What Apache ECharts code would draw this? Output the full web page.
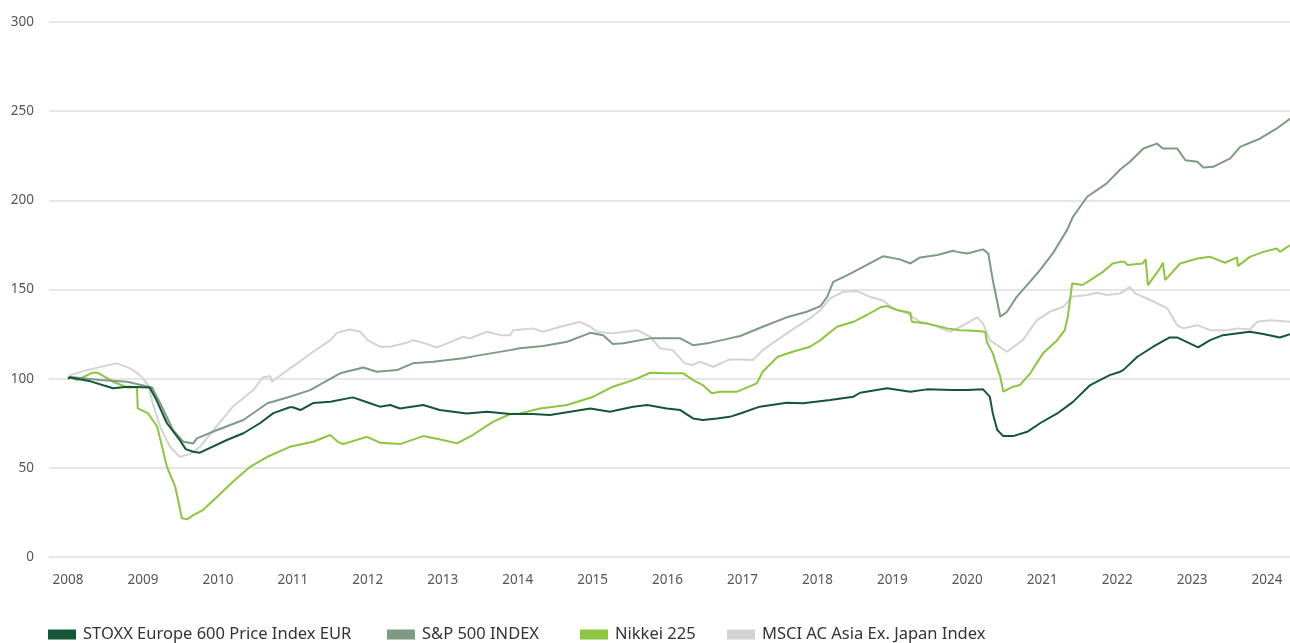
<!DOCTYPE html>
<html>
<head>
<meta charset="utf-8">
<script src="https://cdn.jsdelivr.net/npm/echarts@6/dist/echarts.min.js"></script>
<style>
html,body{margin:0;padding:0;background:#fff;}
#chart{width:1290px;height:643px;}
</style>
</head>
<body>
<div id="chart"></div>
<script>
// Year tick labels
const yearTicks = [2008,2009,2010,2011,2012,2013,2014,2015,2016,2017,2018,2019,2020,2021,2022,2023,2024];
const seriesNames = ['STOXX Europe 600 Price Index EUR','S&P 500 INDEX','Nikkei 225','MSCI AC Asia Ex. Japan Index'];

// [decimal year, indexed value]
const stoxx = [[2008.00,100],[2008.03,100.7],[2008.3,98.5],[2008.6,94.6],[2008.8,95.5],[2009.09,95.1],[2009.18,88],[2009.32,75],[2009.49,65.6],[2009.57,60.5],[2009.67,59],[2009.76,58.5],[2010.12,65.6],[2010.34,69.4],[2010.56,75],[2010.74,80.7],[2010.96,84],[2011.0,84],[2011.1,82.4],[2011.27,86.3],[2011.5,87],[2011.8,89.5],[2012.03,86.2],[2012.16,84.3],[2012.3,85.2],[2012.43,83.3],[2012.74,85.2],[2012.96,82.4],[2013.32,80.5],[2013.59,81.5],[2013.9,80.2],[2014.2,80.2],[2014.43,79.6],[2014.97,83.3],[2015.23,81.5],[2015.54,84.3],[2015.73,85.2],[2015.99,83.3],[2016.17,82.4],[2016.34,77.7],[2016.47,76.8],[2016.66,77.7],[2016.83,78.6],[2016.97,80.5],[2017.23,84.3],[2017.59,86.5],[2017.81,86.2],[2018.17,88],[2018.48,89.9],[2018.57,92.1],[2018.93,94.6],[2019.24,92.7],[2019.46,94],[2019.8,93.6],[2020.0,93.6],[2020.21,94],[2020.3,89.9],[2020.34,80.5],[2020.4,71.2],[2020.48,67.8],[2020.61,67.8],[2020.8,70.2],[2020.97,75],[2021.2,80.5],[2021.41,87],[2021.64,96.4],[2021.77,99.2],[2021.9,102],[2022.04,103.9],[2022.08,104.8],[2022.27,112.3],[2022.48,117.9],[2022.7,123.1],[2022.8,123.1],[2023.08,117.5],[2023.24,121.6],[2023.41,124.4],[2023.77,126.3],[2023.95,125],[2024.17,123.1],[2024.31,125]];

const sp500 = [[2008.0,100],[2008.03,101],[2008.43,99.2],[2008.79,98.3],[2009.03,95.9],[2009.12,95.1],[2009.23,86.2],[2009.4,71.2],[2009.54,64.6],[2009.67,63.7],[2009.72,66.5],[2009.99,71.2],[2010.34,76.8],[2010.66,86.2],[2010.96,89.9],[2011.23,93.6],[2011.63,103],[2011.94,106.3],[2012.12,103.9],[2012.39,104.8],[2012.6,108.6],[2012.87,109.5],[2013.27,111.4],[2013.5,113.2],[2013.9,116],[2014.03,117],[2014.34,118.3],[2014.66,120.7],[2014.97,125.7],[2015.14,124.4],[2015.27,119.4],[2015.41,119.8],[2015.77,122.6],[2016.17,122.6],[2016.34,118.8],[2016.53,119.8],[2016.83,122.6],[2016.97,123.9],[2017.27,129.1],[2017.59,134.4],[2017.86,137.5],[2018.04,140.7],[2018.13,145.9],[2018.21,154.3],[2018.4,158.1],[2018.61,162.7],[2018.88,168.7],[2019.1,166.9],[2019.24,164.6],[2019.37,168],[2019.6,169.3],[2019.81,171.7],[2019.86,171.1],[2020.0,170.2],[2020.21,172.5],[2020.28,170.2],[2020.34,155.3],[2020.44,134.7],[2020.53,137.5],[2020.66,145.9],[2020.97,160.9],[2021.14,170.2],[2021.33,183.3],[2021.41,190.8],[2021.6,202],[2021.86,209.5],[2022.04,217.3],[2022.17,221.6],[2022.35,229.1],[2022.53,231.8],[2022.61,229.1],[2022.8,229.1],[2022.91,222.5],[2023.07,221.6],[2023.15,218.4],[2023.28,218.8],[2023.51,223.5],[2023.64,230],[2023.91,234.7],[2024.13,240.3],[2024.31,245.9]];

const nikkei = [[2008.0,100],[2008.03,100.7],[2008.12,99.2],[2008.32,103.3],[2008.4,103.3],[2008.6,98.3],[2008.79,95.1],[2008.92,95.1],[2008.93,83.3],[2009.07,80.5],[2009.19,73],[2009.32,50.6],[2009.43,39.4],[2009.52,21.7],[2009.59,21.1],[2009.67,23.5],[2009.8,26.3],[2009.99,33.8],[2010.2,42.2],[2010.43,50.6],[2010.66,56.2],[2010.96,61.8],[2011.27,64.6],[2011.5,68.4],[2011.6,64.6],[2011.67,63.3],[2011.99,67.4],[2012.16,64.1],[2012.43,63.3],[2012.74,67.8],[2013.0,65.6],[2013.19,63.7],[2013.4,68.4],[2013.67,75.8],[2013.9,80.2],[2014.03,80.5],[2014.3,83.3],[2014.66,85.2],[2015.01,89.9],[2015.27,95.5],[2015.54,99.2],[2015.77,103.3],[2015.99,103],[2016.21,103],[2016.34,99.2],[2016.47,96.4],[2016.59,91.8],[2016.7,92.7],[2016.93,92.7],[2017.19,97.4],[2017.27,103.9],[2017.47,112.3],[2017.67,115.1],[2017.9,117.9],[2018.04,121.6],[2018.26,129.1],[2018.48,131.9],[2018.66,135.7],[2018.84,140],[2018.93,140.7],[2019.06,138.5],[2019.24,137],[2019.26,131.9],[2019.46,131],[2019.73,128.2],[2019.9,127.2],[2020.08,126.9],[2020.24,126.3],[2020.26,120.7],[2020.34,114.2],[2020.44,101],[2020.48,92.7],[2020.61,95.5],[2020.7,96.4],[2020.84,103],[2021.01,114.2],[2021.2,121.6],[2021.3,127.2],[2021.34,134.7],[2021.4,153.4],[2021.54,152.5],[2021.64,155.3],[2021.81,159.9],[2021.94,164.6],[2022.04,165.5],[2022.1,165.5],[2022.14,163.7],[2022.34,164.6],[2022.38,166.9],[2022.41,152.5],[2022.57,161.8],[2022.61,165],[2022.64,155.3],[2022.84,164.6],[2023.07,167.4],[2023.24,168.3],[2023.44,165],[2023.6,168],[2023.61,163.1],[2023.77,168.3],[2023.95,171.1],[2024.13,173],[2024.17,171.1],[2024.31,174.9]];

const msciAsia = [[2008.0,100],[2008.03,102],[2008.25,104.8],[2008.65,108.6],[2008.83,105.8],[2008.96,102],[2009.07,96.4],[2009.13,86.2],[2009.23,73],[2009.36,61.8],[2009.49,56.2],[2009.63,57.7],[2009.76,61.8],[2009.94,71.2],[2010.2,84.3],[2010.47,93.6],[2010.6,100.7],[2010.7,101.5],[2010.72,98.3],[2010.96,105.8],[2011.06,108.6],[2011.27,115.1],[2011.5,121.6],[2011.59,125.7],[2011.76,127.6],[2011.9,126.3],[2012.0,121.6],[2012.16,117.9],[2012.3,117.9],[2012.52,120.1],[2012.6,121.6],[2012.74,120.1],[2012.92,117.5],[2013.06,119.8],[2013.27,123.5],[2013.36,122.6],[2013.59,126.3],[2013.77,124.4],[2013.9,124.4],[2013.94,127.2],[2014.2,128.2],[2014.34,126.3],[2014.57,129.1],[2014.83,131.9],[2014.97,129.1],[2015.06,126.3],[2015.27,125.4],[2015.59,127.2],[2015.77,123.5],[2015.9,117],[2016.07,116],[2016.23,108.6],[2016.33,107.6],[2016.43,109.5],[2016.61,106.7],[2016.83,110.8],[2016.97,110.8],[2017.14,110.4],[2017.27,116],[2017.46,121.6],[2017.67,127.6],[2017.9,133.8],[2018.04,138.5],[2018.17,145],[2018.34,148.7],[2018.53,149.1],[2018.7,145.9],[2018.88,143.7],[2019.01,139.4],[2019.2,136.6],[2019.37,131.9],[2019.54,130],[2019.77,126.3],[2019.95,130],[2020.13,134.4],[2020.21,131],[2020.3,121.6],[2020.53,115.1],[2020.74,121.6],[2020.93,132.8],[2021.1,137.5],[2021.28,140.3],[2021.4,145.9],[2021.6,146.9],[2021.73,148.2],[2021.86,146.9],[2022.04,147.8],[2022.17,151.5],[2022.24,147.8],[2022.44,144.1],[2022.67,139.4],[2022.8,130],[2022.88,128.2],[2023.07,130],[2023.24,127.2],[2023.47,127.2],[2023.6,128.2],[2023.77,127.6],[2023.87,131.9],[2024.04,132.8],[2024.31,131.9]];

const colors = ['#135638','#7e9a82','#8cc540','#d2d3d4'];
const seriesData = [stoxx, sp500, nikkei, msciAsia];
const legendLefts = [48, 387, 580, 727];

const chart = echarts.init(document.getElementById('chart'), null, {renderer:'canvas'});
const FONT = '"Noto Sans", sans-serif';

const option = {
  animation: false,
  color: colors,
  grid: {left: 49, right: 0, top: 22, bottom: 86, containLabel: false},
  legend: seriesNames.map((n, i) => ({
    data: [n],
    left: legendLefts[i],
    top: 626,
    icon: 'rect',
    itemWidth: 28,
    itemHeight: 10,
    itemGap: 0,
    padding: 0,
    textStyle: {color: '#333', fontSize: 16.5, fontFamily: FONT, padding: [0,0,0,2]}
  })),
  xAxis: {
    type: 'value',
    min: 2007.746,
    max: 2024.306,
    axisLine: {show: false},
    axisTick: {show: false},
    splitLine: {show: false},
    axisLabel: {
      customValues: yearTicks,
      formatter: v => String(Math.round(v)),
      color: '#555', fontSize: 13.5, fontFamily: FONT, margin: 16
    }
  },
  yAxis: {
    type: 'value',
    min: 0, max: 300, interval: 50,
    axisLine: {show: false},
    axisTick: {show: false},
    splitLine: {lineStyle: {color: '#dedede', width: 1.5}},
    axisLabel: {color: '#555', fontSize: 13.5, fontFamily: FONT, margin: 15}
  },
  series: seriesNames.map((n, i) => ({
    name: n,
    type: 'line',
    data: seriesData[i],
    showSymbol: false,
    symbol: 'none',
    lineStyle: {width: 2, color: colors[i]},
    itemStyle: {color: colors[i]},
    z: [4,3,2,1][i]
  }))
};
chart.setOption(option);
</script>
</body>
</html>
